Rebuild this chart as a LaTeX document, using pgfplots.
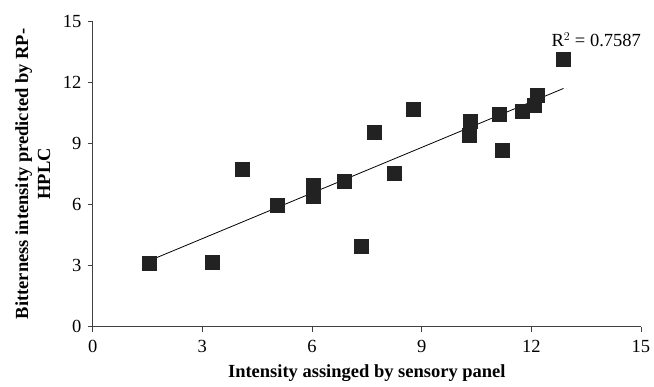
\documentclass[border=0pt]{standalone}
\usepackage{pgfplots}
\pgfplotsset{compat=1.18}
\usepackage{fontspec}
\setmainfont{Liberation Serif}
\definecolor{mk}{HTML}{222222}
\definecolor{ax}{HTML}{404040}
\begin{document}
\fontsize{18.5}{22}\selectfont
\begin{tikzpicture}
\useasboundingbox (-92.7pt,-60.3pt) rectangle (561.3pt,326.7pt);
\begin{axis}[
  at={(0pt,0pt)}, anchor=south west,
  scale only axis, width=548.3pt, height=305.7pt,
  xmin=0, xmax=15, ymin=0, ymax=15,
  xtick={0,3,...,15}, ytick={0,3,...,15},
  axis x line*=bottom, axis y line*=left,
  axis line style={draw=ax, line width=0.9pt, -},
  tick style={draw=ax, line width=0.9pt},
  tick align=outside, major tick length=5pt,
  /pgf/number format/assume math mode=true,
  ticklabel style={font=\fontsize{18.5}{22}\selectfont},
  xticklabel style={yshift=-2pt},
  label style={font=\fontsize{18.5}{22}\selectfont\bfseries},
  xlabel={Intensity assinged by sensory panel},
  ylabel={Bitterness intensity predicted by RP-\\HPLC},
  ylabel style={align=center},
  clip=false,
]
\addplot[black, line width=0.8pt, no marks] coordinates {(1.55,3.24) (12.88,11.69)};
\addplot[only marks, mark=square*, mark size=7pt, mark options={fill=mk, draw=mk}] coordinates {
(1.55,3.14) (3.27,3.16) (4.10,7.74) (5.04,5.94) (6.04,6.92) (6.04,6.42)
(6.88,7.15) (7.34,3.93) (7.71,9.53) (8.24,7.53) (8.77,10.67) (10.32,10.06)
(10.30,9.41) (11.13,10.44) (11.19,8.67) (11.74,10.55) (12.07,10.88)
(12.17,11.34) (12.88,13.14)
};
\node[anchor=west, inner sep=0pt] at (axis cs:12.55,14.07) {R$^{2}$ = 0.7587};
\end{axis}
\end{tikzpicture}
\end{document}
